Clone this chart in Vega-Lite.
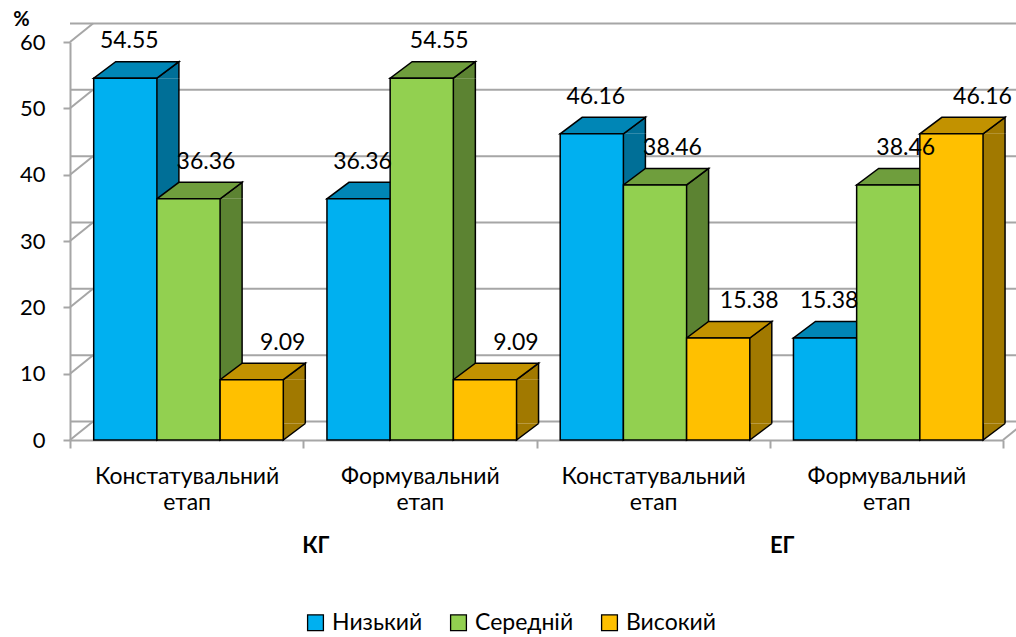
{
  "$schema": "https://vega.github.io/schema/vega-lite/v6.json",
  "width": 933,
  "height": 398,
  "autosize": {"type": "none"},
  "padding": {"left": 70, "top": 42, "right": 13, "bottom": 197},
  "background": "white",
  "config": {
    "font": "Lato",
    "view": {"stroke": null},
    "axis": {"labelFont": "Lato", "titleFont": "Lato", "labelColor": "black", "titleColor": "black", "grid": false},
    "axisX": {"labelExpr": "slice(split(datum.label, ' '), 1)", "labelAngle": 0, "labelLimit": 400, "tickBand": "extent", "tickSize": 8, "tickColor": "#a6a6a6", "tickWidth": 2, "domainColor": "#a6a6a6", "domainWidth": 2, "labelFontSize": 23, "labelLineHeight": 26, "labelPadding": 17},
    "axisY": {"tickCount": 7, "domainColor": "#a6a6a6", "domainWidth": 2, "tickColor": "#a6a6a6", "tickWidth": 2, "tickSize": 7, "labelFontSize": 22, "labelPadding": 18, "titleAngle": 0, "titleFontSize": 20, "titleFontWeight": "bold", "titleX": -49, "titleY": -23, "titleAlign": "center", "titleBaseline": "middle"},
    "legend": {"labelFont": "Lato", "labelColor": "black"}
  },
  "datasets": {
    "main": [
      {"group": "КГ", "stage": "Констатувальний етап", "category": "КГ Констатувальний етап", "level": "Низький", "value": 54.55},
      {"group": "КГ", "stage": "Констатувальний етап", "category": "КГ Констатувальний етап", "level": "Середній", "value": 36.36},
      {"group": "КГ", "stage": "Констатувальний етап", "category": "КГ Констатувальний етап", "level": "Високий", "value": 9.09},
      {"group": "КГ", "stage": "Формувальний етап", "category": "КГ Формувальний етап", "level": "Низький", "value": 36.36},
      {"group": "КГ", "stage": "Формувальний етап", "category": "КГ Формувальний етап", "level": "Середній", "value": 54.55},
      {"group": "КГ", "stage": "Формувальний етап", "category": "КГ Формувальний етап", "level": "Високий", "value": 9.09},
      {"group": "ЕГ", "stage": "Констатувальний етап", "category": "ЕГ Констатувальний етап", "level": "Низький", "value": 46.16},
      {"group": "ЕГ", "stage": "Констатувальний етап", "category": "ЕГ Констатувальний етап", "level": "Середній", "value": 38.46},
      {"group": "ЕГ", "stage": "Констатувальний етап", "category": "ЕГ Констатувальний етап", "level": "Високий", "value": 15.38},
      {"group": "ЕГ", "stage": "Формувальний етап", "category": "ЕГ Формувальний етап", "level": "Низький", "value": 15.38},
      {"group": "ЕГ", "stage": "Формувальний етап", "category": "ЕГ Формувальний етап", "level": "Середній", "value": 38.46},
      {"group": "ЕГ", "stage": "Формувальний етап", "category": "ЕГ Формувальний етап", "level": "Високий", "value": 46.16}
    ],
    "grid": [{"g": 0}, {"g": 10}, {"g": 20}, {"g": 30}, {"g": 40}, {"g": 50}, {"g": 60}]
  },
  "layer": [
    {
      "data": {"name": "main"},
      "resolve": {"scale": {"fill": "independent", "xOffset": "independent"}, "legend": {"fill": "independent"}},
      "layer": [
        {
          "data": {"name": "grid"},
          "mark": {"type": "rule", "stroke": "#a6a6a6", "strokeWidth": 2, "xOffset": 23, "x2Offset": 23, "yOffset": -18.5},
          "encoding": {
            "y": {"field": "g", "type": "quantitative", "scale": {"domain": [0, 60], "nice": false}, "title": "%"}
          }
        },
        {
          "data": {"name": "grid"},
          "mark": {"type": "point", "shape": "M0,0L0.7667,-0.6167", "size": 3600, "filled": false, "stroke": "#a6a6a6", "strokeWidth": 2, "opacity": 1},
          "encoding": {
            "x": {"datum": "КГ Констатувальний етап", "type": "nominal", "bandPosition": 0, "scale": {"domain": ["КГ Констатувальний етап", "КГ Формувальний етап", "ЕГ Констатувальний етап", "ЕГ Формувальний етап"], "paddingInner": 0, "paddingOuter": 0}, "title": null},
            "y": {"field": "g", "type": "quantitative", "title": "%"}
          }
        },
        {
          "data": {"name": "grid"},
          "transform": [{"filter": "datum.g == 0"}],
          "mark": {"type": "point", "shape": "M0,0L0.7667,-0.6167", "size": 3600, "filled": false, "stroke": "#a6a6a6", "strokeWidth": 2, "opacity": 1},
          "encoding": {
            "x": {"datum": "ЕГ Формувальний етап", "type": "nominal", "bandPosition": 1, "title": null},
            "y": {"field": "g", "type": "quantitative", "title": "%"}
          }
        },
        {
          "mark": {"type": "bar", "opacity": 1, "strokeWidth": 0},
          "encoding": {
            "x": {"field": "category", "type": "nominal", "title": null},
            "xOffset": {"field": "level", "type": "nominal", "scale": {"type": "band", "domain": ["Низький", "Середній", "Високий"], "range": [86.9, 235.3], "paddingInner": 0.6519, "paddingOuter": 0}},
            "y": {"field": "value", "type": "quantitative", "title": "%"},
            "y2": {"datum": 2.4875},
            "fill": {"field": "level", "type": "nominal", "scale": {"domain": ["Низький", "Середній", "Високий"], "range": ["#006F97", "#5C8332", "#A17900"]}, "legend": null}
          }
        },
        {
          "mark": {"type": "rule", "stroke": "black", "strokeWidth": 1.5},
          "encoding": {
            "x": {"field": "category", "type": "nominal", "title": null},
            "xOffset": {"field": "level", "type": "nominal", "scale": {"type": "point", "domain": ["Низький", "Середній", "Високий"], "range": [108.9, 235.3], "padding": 0}},
            "y": {"field": "value", "type": "quantitative", "title": "%"},
            "y2": {"datum": 2.4875}
          }
        },
        {
          "mark": {"type": "point", "shape": "M0.7022,0L0.9467,-0.1833L0.9467,0", "size": 32400, "filled": true, "opacity": 1, "stroke": "black", "strokeWidth": 1.5},
          "encoding": {
            "x": {"field": "category", "type": "nominal", "title": null},
            "xOffset": {"field": "level", "type": "nominal", "scale": {"type": "point", "domain": ["Низький", "Середній", "Високий"], "range": [23.7, 150.1], "padding": 0}},
            "y": {"field": "value", "type": "quantitative", "title": "%"},
            "fill": {"field": "level", "type": "nominal", "scale": {"domain": ["Низький", "Середній", "Високий"], "range": ["#006F97", "#5C8332", "#A17900"]}, "legend": null}
          }
        },
        {
          "mark": {"type": "point", "shape": "M0.7022,-0.1833L0.7022,0L0.9467,-0.1833", "size": 32400, "filled": true, "opacity": 1, "stroke": "black", "strokeWidth": 1.5},
          "encoding": {
            "x": {"field": "category", "type": "nominal", "title": null},
            "xOffset": {"field": "level", "type": "nominal", "scale": {"type": "point", "domain": ["Низький", "Середній", "Високий"], "range": [23.7, 150.1], "padding": 0}},
            "y": {"datum": 0, "type": "quantitative", "title": "%"},
            "fill": {"field": "level", "type": "nominal", "scale": {"domain": ["Низький", "Середній", "Високий"], "range": ["#006F97", "#5C8332", "#A17900"]}, "legend": null}
          }
        },
        {
          "mark": {"type": "point", "shape": "M0,0L0.7022,0L0.9467,-0.1833L0.2444,-0.1833Z", "size": 32400, "filled": true, "opacity": 1, "stroke": "black", "strokeWidth": 1.5},
          "encoding": {
            "x": {"field": "category", "type": "nominal", "title": null},
            "xOffset": {"field": "level", "type": "nominal", "scale": {"type": "point", "domain": ["Низький", "Середній", "Високий"], "range": [23.7, 150.1], "padding": 0}},
            "y": {"field": "value", "type": "quantitative", "title": "%"},
            "fill": {"field": "level", "type": "nominal", "scale": {"domain": ["Низький", "Середній", "Високий"], "range": ["#0086B6", "#6F9E3D", "#C29200"]}, "legend": null}
          }
        },
        {
          "mark": {"type": "bar", "opacity": 1, "stroke": "black", "strokeWidth": 1.5},
          "encoding": {
            "x": {"field": "category", "type": "nominal", "title": null},
            "xOffset": {"field": "level", "type": "nominal", "scale": {"type": "band", "domain": ["Низький", "Середній", "Високий"], "range": [23.7, 213.3], "paddingInner": 0, "paddingOuter": 0}},
            "y": {"field": "value", "type": "quantitative", "title": "%"},
            "fill": {"field": "level", "type": "nominal", "scale": {"domain": ["Низький", "Середній", "Високий"], "range": ["#00B0F0", "#92D050", "#FFC000"]},
              "legend": {"orient": "none", "legendX": 234, "legendY": 569, "direction": "horizontal", "title": null, "symbolType": "square", "symbolSize": 250, "symbolStrokeColor": "black", "symbolStrokeWidth": 1.3, "symbolOpacity": 1, "labelFontSize": 23, "columnPadding": 24, "labelOffset": 5}}
          }
        },
        {
          "mark": {"type": "text", "dy": -37, "baseline": "middle", "align": "center", "fontSize": 23, "font": "Lato", "color": "black"},
          "encoding": {
            "x": {"field": "category", "type": "nominal", "title": null},
            "xOffset": {"field": "level", "type": "nominal", "scale": {"type": "point", "domain": ["Низький", "Середній", "Високий"], "range": [59.3, 212.7], "padding": 0}},
            "y": {"field": "value", "type": "quantitative", "title": "%"},
            "text": {"field": "value", "type": "quantitative", "format": ".2f"}
          }
        }
      ]
    },
    {
      "data": {"name": "main"},
      "mark": {"type": "point", "opacity": 0},
      "encoding": {
        "x": {"field": "group", "type": "nominal",
          "scale": {"type": "band", "domain": ["КГ", "ЕГ"], "paddingInner": 0, "paddingOuter": 0},
          "axis": {"orient": "bottom", "title": null, "labelExpr": "datum.label", "domain": false, "ticks": false, "tickSize": 0, "labelPadding": 95, "labelOffset": 12, "labelFontSize": 22, "labelFontWeight": "bold", "labelAngle": 0}}
      }
    }
  ],
  "resolve": {"scale": {"x": "independent"}, "axis": {"x": "independent"}}
}
